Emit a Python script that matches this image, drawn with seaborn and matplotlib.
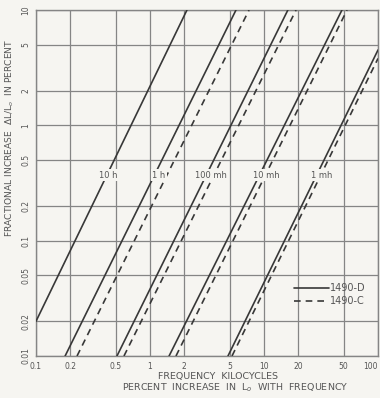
import matplotlib
matplotlib.use("Agg")
import matplotlib.pyplot as plt
import seaborn as sns
import pandas as pd
from matplotlib.lines import Line2D

# end points of each straight line (kilocycles, percent)
coils_d = ["10 h", "1 h", "100 mh", "10 mh", "1 mh"]
freq_start_d = [0.1, 0.18, 0.513, 1.47, 4.83]
pct_start_d = [0.02, 0.01, 0.01, 0.01, 0.01]
freq_end_d = [2.11, 5.68, 16.2, 48.3, 100]
pct_end_d = [10, 10, 10, 10, 4.5]

coils_c = ["1 h", "100 mh", "10 mh", "1 mh"]
freq_start_c = [0.229, 0.591, 1.69, 5.24]
pct_start_c = [0.01, 0.01, 0.01, 0.01]
freq_end_c = [7.39, 19.1, 53.5, 100]
pct_end_c = [10, 10, 10, 3.8]

line_labels = ["10 h", "1 h", "100 mh", "10 mh", "1 mh"]
label_freq = [0.43, 1.2, 3.4, 10.5, 32]
label_pct = 0.37

xticks = [0.1, 0.2, 0.5, 1, 2, 5, 10, 20, 50, 100]
xticklabels = ["0.1", "0.2", "0.5", "1", "2", "5", "10", "20", "50", "100"]
yticks = [0.01, 0.02, 0.05, 0.1, 0.2, 0.5, 1, 2, 5, 10]
yticklabels = ["0.01", "0.02", "0.05", "0.1", "0.2", "0.5", "1", "2", "5", "10"]

rows = []
for name, f0, p0, f1, p1 in zip(coils_d, freq_start_d, pct_start_d, freq_end_d, pct_end_d):
    rows += [(name, "1490-D", f0, p0), (name, "1490-D", f1, p1)]
for name, f0, p0, f1, p1 in zip(coils_c, freq_start_c, pct_start_c, freq_end_c, pct_end_c):
    rows += [(name, "1490-C", f0, p0), (name, "1490-C", f1, p1)]
df = pd.DataFrame(rows, columns=["coil", "model", "freq", "pct"])

sns.set_theme(style="white")
plt.rcParams['font.family'] = ['DejaVu Sans']
paper = "#f6f5f1"
ink = "#383838"
grid = "#858585"
txt = "#555555"

fig = plt.figure(figsize=(3.8, 3.98), dpi=100, facecolor=paper)
ax = fig.add_axes([36 / 380, 1 - 356 / 398, 342 / 380, 346 / 398])
ax.set_facecolor(paper)
ax.set_xscale("log")
ax.set_yscale("log")

sns.lineplot(data=df, x="freq", y="pct", units="coil", style="model", estimator=None,
             color=ink, dashes={"1490-D": "", "1490-C": (4, 3)}, linewidth=1.2,
             legend=False, ax=ax, zorder=3)

ax.set_xlim(0.1, 100)
ax.set_ylim(0.01, 10)
ax.set_xticks(xticks)
ax.set_xticklabels(xticklabels)
ax.get_xticklabels()[-1].set_ha("right")
ax.set_yticks(yticks)
ax.set_yticklabels(yticklabels, rotation=90, va="center")
ax.minorticks_off()
ax.grid(True, color=grid, lw=0.9, zorder=1)
for s in ax.spines.values():
    s.set_color(grid)
    s.set_linewidth(1.0)
ax.tick_params(length=2, width=0.6, color=grid, labelsize=5.5, labelcolor=txt, pad=2)
ax.set_xlabel("")
ax.set_ylabel("FRACTIONAL INCREASE  \u0394L/L$_o$  IN PERCENT", fontsize=6.6, color=txt)
ax.yaxis.set_label_coords(-0.058, 0.63)

for lab, fx in zip(line_labels, label_freq):
    ax.text(fx, label_pct, lab, fontsize=6, color=txt, ha="center", va="center", zorder=5,
            bbox=dict(boxstyle="square,pad=0.15", fc=paper, ec="none"))

handles = [Line2D([], [], color=ink, lw=1.2),
           Line2D([], [], color=ink, lw=1.2, dashes=(4, 3))]
leg = ax.legend(handles, ["1490-D", "1490-C"], frameon=False, loc="center left",
                bbox_to_anchor=(0.73, 0.177), handlelength=3.6, handletextpad=0.1,
                labelspacing=0.3, fontsize=7)
for t in leg.get_texts():
    t.set_color(txt)

fig.text(218 / 380, 1 - 376 / 398, "FREQUENCY  KILOCYCLES", ha="center", va="center",
         fontsize=6.8, color=txt)
fig.text(235 / 380, 1 - 388 / 398, "PERCENT  INCREASE  IN  L$_o$  WITH  FREQUENCY",
         ha="center", va="center", fontsize=6.8, color=txt)

fig.savefig("out.png", dpi=100, facecolor=paper)
